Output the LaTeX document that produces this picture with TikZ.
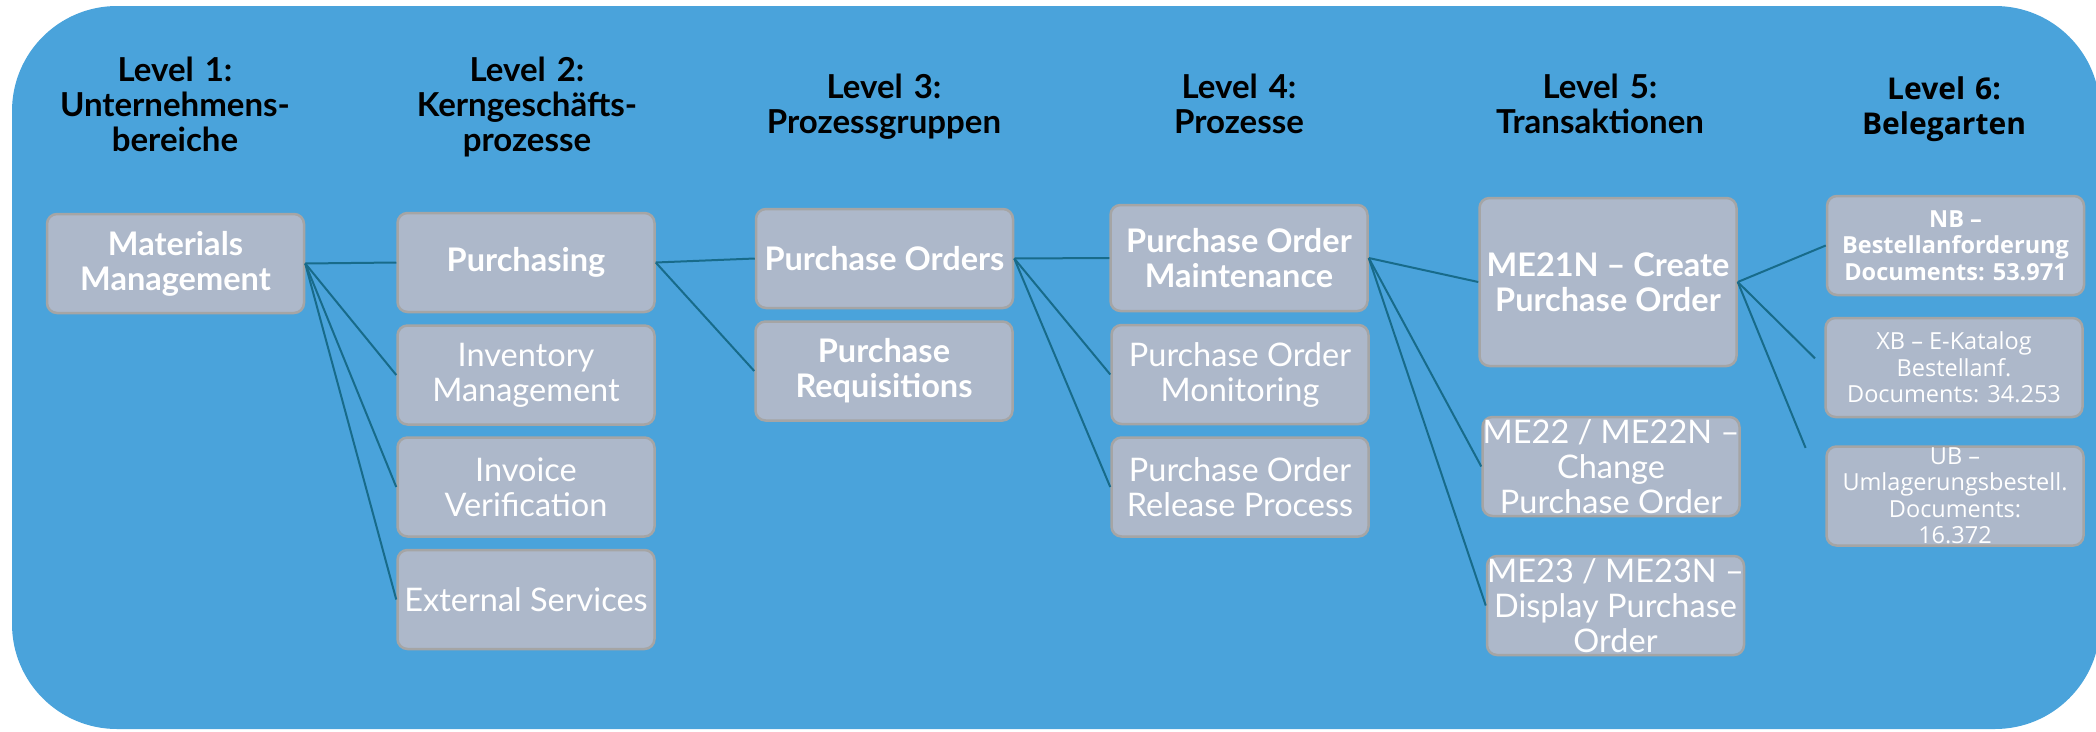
\documentclass[tikz,border=0pt]{standalone}
\usepackage{fontspec}
\setmainfont{Lato}
\newfontfamily\segoe{Open Sans}
\definecolor{bgblue}{RGB}{74,163,219}
\definecolor{boxfill}{RGB}{173,184,202}
\definecolor{boxline}{RGB}{165,165,165}
\definecolor{linkteal}{RGB}{24,107,138}
\begin{document}
\begin{tikzpicture}[x=1pt, y=-1pt,
    level/.style={text width=300pt, align=center, anchor=base, font=\fontsize{33}{35}\selectfont\bfseries},
    box/.style={draw=boxline, line width=2.5pt, fill=boxfill, rounded corners=10pt, text=white, align=center, inner sep=0pt, minimum width=257pt, minimum height=99pt, font=\fontsize{32.5}{35}\selectfont},
    keybox/.style={box, font=\fontsize{32.5}{35}\selectfont\bfseries},
    docbox/.style={box, font=\segoe\fontsize{23.5}{26.5}\selectfont},
    link/.style={draw=linkteal, line width=2pt}]
        \useasboundingbox (0,0) rectangle (2096,731);
        \fill[bgblue, rounded corners=105pt] (12,6) rectangle (2100,729);

        \node[level] (lvlone) at (175,81) {Level 1:\\Unternehmens-\\bereiche};
        \node[level] (lvltwo) at (527,81) {Level 2:\\Kerngeschäfts-\\prozesse};
        \node[level] (lvlthree) at (884,98) {Level 3:\\Prozessgruppen};
        \node[level] (lvlfour) at (1239,98) {Level 4:\\Prozesse};
        \node[level] (lvlfive) at (1600,98) {Level 5:\\Transaktionen};
        \node[level, font=\segoe\fontsize{30}{35}\selectfont\bfseries] (lvlsix) at (1944,99) {Level 6:\\Belegarten};

        \node[keybox] (mm) at (175.5,263.5) {Materials\\Management};
        \node[keybox] (purch) at (526,262.5) {Purchasing};
        \node[box] (inv) at (526,375) {Inventory\\Management};
        \node[box] (invoice) at (526,487) {Invoice\\Verification};
        \node[box] (ext) at (526,599.5) {External Services};

        \node[keybox] (porders) at (884.5,258.5) {Purchase Orders};
        \node[keybox] (preq) at (884,371) {Purchase\\Requisitions};

        \node[keybox, minimum height=106pt] (pomaint) at (1239,258) {Purchase Order\\Maintenance};
        \node[box] (pomon) at (1240,374.5) {Purchase Order\\Monitoring};
        \node[box] (porel) at (1240,487) {Purchase Order\\Release Process};

        \node[keybox, minimum height=168pt] (me21n) at (1608,282) {ME21N – Create\\Purchase Order};
        \node[box] (me22) at (1611,466.5) {ME22 / ME22N –\\Change\\Purchase Order};
        \node[box] (me23) at (1615.5,605.5) {ME23 / ME23N –\\Display Purchase\\Order};

        \node[docbox, font=\segoe\fontsize{23.5}{26.5}\selectfont\bfseries] (nb) at (1955.5,245.5) {NB –\\Bestellanforderung\\Documents: 53.971};
        \node[docbox] (xb) at (1954,367.5) {XB – E-Katalog\\Bestellanf.\\Documents: 34.253};
        \node[docbox] (ub) at (1955,496) {UB –\\Umlagerungsbestell.\\Documents:\\16.372};

        \draw[link] (mm.east) -- (purch.west);
        \draw[link] (mm.east) -- (inv.west);
        \draw[link] (mm.east) -- (invoice.west);
        \draw[link] (mm.east) -- (ext.west);
        \draw[link] (purch.east) -- (porders.west);
        \draw[link] (purch.east) -- (preq.west);
        \draw[link] (porders.east) -- (pomaint.west);
        \draw[link] (porders.east) -- (pomon.west);
        \draw[link] (porders.east) -- (porel.west);
        \draw[link] (pomaint.east) -- (me21n.west);
        \draw[link] (pomaint.east) -- (me22.west);
        \draw[link] (pomaint.east) -- (me23.west);
        \draw[link] (me21n.east) -- (nb.west);
        \draw[link, shorten >=13pt] (me21n.east) -- (xb.west);
        \draw[link, shorten >=52pt] (me21n.east) -- (ub.west);
\end{tikzpicture}
\end{document}
